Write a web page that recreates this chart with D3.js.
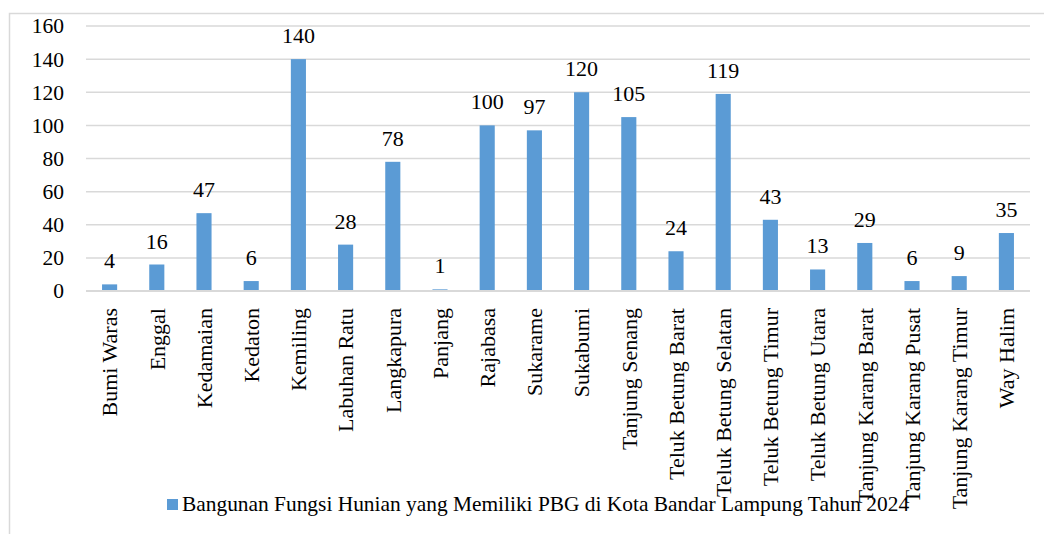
<!DOCTYPE html>
<html>
<head>
<meta charset="utf-8">
<script src="https://cdn.jsdelivr.net/npm/d3@7"></script>
<style>
  html, body { margin: 0; padding: 0; background: #fff; }
  svg { display: block; }
</style>
</head>
<body>
<svg id="chart" width="1044" height="534"></svg>
<script>
const categories = ["Bumi Waras", "Enggal", "Kedamaian", "Kedaton", "Kemiling", "Labuhan Ratu", "Langkapura", "Panjang", "Rajabasa", "Sukarame", "Sukabumi", "Tanjung Senang", "Teluk Betung Barat", "Teluk Betung Selatan", "Teluk Betung Timur", "Teluk Betung Utara", "Tanjung Karang Barat", "Tanjung Karang Pusat", "Tanjung Karang Timur", "Way Halim"];
const values = [4, 16, 47, 6, 140, 28, 78, 1, 100, 97, 120, 105, 24, 119, 43, 13, 29, 6, 9, 35];
const yTicks = [0, 20, 40, 60, 80, 100, 120, 140, 160];
const seriesName = "Bangunan Fungsi Hunian yang Memiliki PBG di Kota Bandar Lampung Tahun 2024";

const svg = d3.select("#chart");
const W = 1044, H = 534;
const plot = { left: 86, right: 1030, top: 26, bottom: 291 };
const barColor = "#5B9BD5";
const gridColor = "#D9D9D9";
const FONT = "'Liberation Serif', 'Times New Roman', Times, serif";

function serif(sel, size) {
  return sel.attr("font-family", FONT).style("font-family", FONT)
    .attr("font-size", size).style("font-size", size + "px").attr("fill", "#000");
}

// outer chart border
svg.append("rect")
  .attr("x", 9.5).attr("y", 13.5)
  .attr("width", W + 20).attr("height", H + 20)
  .attr("fill", "none").attr("stroke", gridColor).attr("stroke-width", 1.5);

const x = d3.scaleBand().domain(categories).range([plot.left, plot.right]).paddingInner(0.68).paddingOuter(0.34);
const y = d3.scaleLinear().domain([0, 160]).range([plot.bottom, plot.top]);

// gridlines
svg.append("g").selectAll("line").data(yTicks.filter(d => d > 0)).join("line")
  .attr("x1", plot.left).attr("x2", plot.right)
  .attr("y1", d => y(d)).attr("y2", d => y(d))
  .attr("stroke", gridColor).attr("stroke-width", 1.5);

// y axis labels via d3 axis
const yAxis = d3.axisLeft(y).tickValues(yTicks).tickSize(0).tickPadding(22);
const gy = svg.append("g").attr("transform", `translate(${plot.left},0)`).call(yAxis);
gy.attr("font-family", FONT).attr("font-size", 21.5);
gy.select(".domain").remove();
serif(gy.selectAll("text"), 21.5);

// bars
svg.append("g").selectAll("rect").data(values).join("rect")
  .attr("x", (d, i) => x(categories[i]))
  .attr("y", d => y(d))
  .attr("width", x.bandwidth())
  .attr("height", d => y(0) - y(d))
  .attr("fill", barColor);

// zero axis line
svg.append("line")
  .attr("x1", plot.left).attr("x2", plot.right)
  .attr("y1", y(0)).attr("y2", y(0))
  .attr("stroke", gridColor).attr("stroke-width", 1.8);

// data labels
serif(svg.append("g").selectAll("text").data(values).join("text"), 22)
  .attr("x", (d, i) => x(categories[i]) + x.bandwidth() / 2)
  .attr("y", d => y(d) - 16)
  .attr("text-anchor", "middle")
  .text(d => d);

// category labels (rotated)
serif(svg.append("g").selectAll("text").data(categories).join("text"), 22)
  .attr("transform", d => `translate(${x(d) + x.bandwidth() / 2},${plot.bottom + 17}) rotate(-90)`)
  .attr("text-anchor", "end")
  .attr("dy", "0.35em")
  .text(d => d);

// legend
const lg = svg.append("g").attr("transform", "translate(167,499)");
lg.append("rect").attr("x", 0).attr("y", 0).attr("width", 11).attr("height", 11).attr("fill", barColor);
serif(lg.append("text"), 21.4).attr("x", 15).attr("y", 11.5).text(seriesName);
</script>
</body>
</html>
